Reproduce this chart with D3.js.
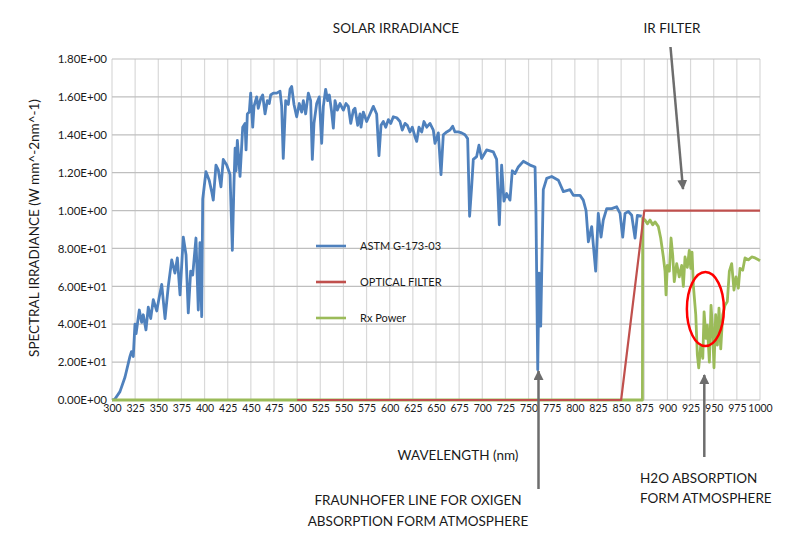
<!DOCTYPE html>
<html>
<head>
<meta charset="utf-8">
<script src="https://cdn.jsdelivr.net/npm/d3@7"></script>
<style>
  body { margin: 0; background: #fff; }
  text { font-family: Lato, "Open Sans", sans-serif; fill: #1a1a1a; }
</style>
</head>
<body>
<div id="chart"></div>
<script>
// wavelength ticks and the odd Excel labels on the y axis
const xTicks = d3.range(300, 1001, 25);
const yTicks = [0, 0.2, 0.4, 0.6, 0.8, 1.0, 1.2, 1.4, 1.6, 1.8];
const yTickLabels = ["0.00E+00", "2.00E+01", "4.00E+01", "6.00E+01", "8.00E+01",
    "1.00E+00", "1.20E+00", "1.40E+00", "1.60E+00", "1.80E+00"];

// ASTM G-173-03 solar irradiance, [nm, value]
const astm = [[300, 0], [303, 0.004], [308.6, 0.044], [314, 0.12], [319.4, 0.23], [321, 0.255],
    [323, 0.23], [324.8, 0.40], [326, 0.35], [329.5, 0.475], [332, 0.41], [333.8, 0.45], [336.7, 0.37],
    [339.2, 0.49], [341.8, 0.43], [344.6, 0.53], [348.3, 0.47], [351.1, 0.545], [353.7, 0.61],
    [357.3, 0.43], [360.8, 0.60], [364.5, 0.74], [368, 0.67], [370.6, 0.75], [373.5, 0.555],
    [377, 0.86], [380, 0.765], [382.4, 0.46], [385, 0.68], [387.2, 0.66], [390.7, 0.855],
    [393.2, 0.475], [395, 0.83], [396.9, 0.44], [398, 1.06], [401.5, 1.205], [405, 1.16],
    [407.7, 1.10], [409.4, 1.055], [412.3, 1.24], [414.8, 1.215], [417.7, 1.125], [420.2, 1.27],
    [423.9, 1.24], [427.5, 1.19], [430, 0.79], [431.8, 1.15], [433, 1.33], [434, 1.21],
    [435.4, 1.37], [438.3, 1.18], [441.2, 1.44], [443.7, 1.46], [444.8, 1.32], [446.2, 1.51],
    [448.3, 1.52], [449.8, 1.62], [452, 1.44], [453.4, 1.55], [456.3, 1.60], [458, 1.54],
    [460.6, 1.59], [462.8, 1.61], [465.3, 1.51], [467.8, 1.58], [469.9, 1.565], [471.4, 1.61],
    [474.3, 1.62], [477.9, 1.62], [481.5, 1.63], [483.3, 1.55], [485, 1.275], [487.6, 1.58],
    [490.5, 1.56], [492.3, 1.64], [494.1, 1.655], [496.6, 1.56], [499.5, 1.495], [502.3, 1.565],
    [504.9, 1.52], [506.7, 1.58], [509.2, 1.51], [512.1, 1.62], [514.6, 1.58], [516.4, 1.27],
    [518.2, 1.46], [521.1, 1.565], [523.9, 1.60], [526.5, 1.355], [528.3, 1.55], [530.8, 1.64],
    [533, 1.58], [534.8, 1.61], [537.3, 1.52], [539.1, 1.435], [540.9, 1.58], [543.4, 1.53],
    [546.3, 1.565], [549.9, 1.53], [552.8, 1.565], [555.3, 1.55], [557.9, 1.46], [560.7, 1.53],
    [562.5, 1.54], [565.4, 1.45], [567.9, 1.51], [569, 1.44], [571.5, 1.52], [575.1, 1.47],
    [578.7, 1.51], [582.3, 1.55], [585.9, 1.51], [588.4, 1.29], [590.6, 1.45], [593.1, 1.47],
    [595.7, 1.44], [598.5, 1.48], [601.1, 1.46], [603.9, 1.495], [607.6, 1.49], [611.1, 1.47],
    [613.6, 1.425], [616.5, 1.46], [619, 1.45], [621.9, 1.415], [624.4, 1.44], [627.3, 1.39],
    [629.2, 1.365], [631.6, 1.44], [634.6, 1.415], [637, 1.47], [640, 1.44], [643.5, 1.46],
    [647.1, 1.425], [648.9, 1.355], [652.5, 1.41], [655.4, 1.19], [657.9, 1.40], [661.6, 1.415],
    [665.1, 1.425], [668, 1.445], [670.5, 1.415], [674.1, 1.415], [677.7, 1.41], [681.3, 1.40],
    [684.2, 1.38], [686.3, 0.97], [688.5, 1.125], [690.3, 1.27], [693.9, 1.285], [696.4, 1.345],
    [699.3, 1.275], [704.7, 1.32], [711.9, 1.31], [715.5, 1.27], [718.4, 0.925], [720.9, 1.24],
    [723.4, 1.05], [726.3, 1.09], [729.9, 1.055], [732.4, 1.21], [735.3, 1.195], [738.9, 1.23],
    [744.3, 1.26], [751.6, 1.24], [757, 1.23], [758, 0.985], [759.9, 0.16], [761.3, 0.67],
    [763.1, 0.39], [765.9, 1.11], [769.6, 1.17], [775, 1.18], [782.2, 1.16], [787.6, 1.10],
    [794.8, 1.11], [798.4, 1.08], [805.6, 1.08], [809.1, 1.055], [812.1, 1.00], [814.6, 0.835],
    [818.2, 0.915], [822.5, 0.68], [825.3, 0.985], [828.3, 0.86], [830.7, 0.95], [834.4, 1.01],
    [839.8, 1.01], [845.2, 1.02], [848.8, 0.985], [851.7, 0.86], [854.2, 0.985], [857.8, 0.995],
    [861.4, 0.975], [865, 0.855], [867.5, 0.975], [872.2, 0.97]];

// optical (IR) filter
const opticalFilter = [[500, 0], [850, 0], [875, 1], [1000, 1]];

// received power
const rxPower = [[300, 0], [873, 0], [873.3, 0.96], [875.8, 0.95], [878.3, 0.93], [881.2, 0.95],
    [884.1, 0.925], [886.6, 0.94], [890.2, 0.915], [892.7, 0.855], [895.6, 0.755], [897.4, 0.68],
    [898.5, 0.555], [899.9, 0.71], [902.1, 0.68], [903.9, 0.855], [905.7, 0.765], [907.4, 0.625],
    [910, 0.72], [912.8, 0.65], [915.4, 0.71], [917.2, 0.60], [919, 0.755], [921.5, 0.70],
    [923.6, 0.79], [925.2, 0.695], [926.6, 0.78], [928, 0.605], [930.6, 0.45], [932.3, 0.24],
    [933.8, 0.17], [936, 0.29], [938.2, 0.22], [939.6, 0.465], [941.7, 0.325], [943.1, 0.395],
    [945.3, 0.20], [947.1, 0.50], [948.9, 0.36], [950.3, 0.17], [952.1, 0.45], [954, 0.29],
    [955.7, 0.485], [957.6, 0.27], [959.7, 0.45], [962.2, 0.50], [964.7, 0.52], [966.9, 0.68],
    [969.4, 0.72], [971.9, 0.58], [974.1, 0.65], [976.6, 0.59], [978.4, 0.695], [981.3, 0.685],
    [983.8, 0.75], [987.4, 0.74], [991.1, 0.755], [994.7, 0.75], [998.3, 0.74], [1000, 0.735]];

const series = [
    { name: "ASTM G-173-03", color: "#4f81bd", width: 2.8, points: astm },
    { name: "OPTICAL FILTER", color: "#c0504d", width: 2.2, points: opticalFilter },
    { name: "Rx Power", color: "#9bbb59", width: 2.8, points: rxPower }
];

const width = 800;
const height = 546;

const x = d3.scaleLinear().domain([300, 1000]).range([112, 760]);
const y = d3.scaleLinear().domain([0, 1.8]).range([400, 59]);

const svg = d3.select("#chart")
    .append("svg")
    .attr("width", width)
    .attr("height", height);

// grid
svg.append("g")
    .selectAll("line")
    .data(xTicks)
    .enter()
    .append("line")
    .attr("x1", (d) => x(d)).attr("x2", (d) => x(d))
    .attr("y1", y(1.8)).attr("y2", y(0))
    .attr("stroke", "#d9d9d9")
    .attr("stroke-width", 1.2);

svg.append("g")
    .selectAll("line")
    .data(yTicks)
    .enter()
    .append("line")
    .attr("x1", x(300)).attr("x2", x(1000))
    .attr("y1", (d) => y(d)).attr("y2", (d) => y(d))
    .attr("stroke", "#bfbfbf")
    .attr("stroke-width", 1.2);

// axes
const xAxis = svg.append("g")
    .attr("transform", `translate(0,${y(0)})`)
    .call(d3.axisBottom(x).tickValues(xTicks).tickSize(0).tickPadding(5).tickFormat(d3.format("d")));
xAxis.select(".domain").remove();
xAxis.selectAll("text").style("font-size", "10.5px");

const yAxis = svg.append("g")
    .attr("transform", `translate(${x(300)},0)`)
    .call(d3.axisLeft(y).tickValues(yTicks).tickSize(0).tickPadding(5)
        .tickFormat((d, i) => yTickLabels[i]));
yAxis.select(".domain").remove();
yAxis.selectAll("text").style("font-size", "11.5px");

// series: blue first, then green, red on top of the baseline
const line = d3.line()
    .x((d) => x(d[0]))
    .y((d) => y(d[1]));

[series[0], series[2], series[1]].forEach((s) => {
    svg.append("path")
        .datum(s.points)
        .attr("fill", "none")
        .attr("stroke", s.color)
        .attr("stroke-width", s.width)
        .attr("stroke-linejoin", "round")
        .attr("d", line);
});

// legend
const legend = svg.append("g")
    .selectAll("g")
    .data(series)
    .enter()
    .append("g")
    .attr("transform", (d, i) => `translate(316,${246 + i * 36})`);

legend.append("line")
    .attr("x1", 0).attr("x2", 30)
    .attr("stroke", (d) => d.color)
    .attr("stroke-width", 2.6);

legend.append("text")
    .attr("x", 44)
    .attr("dy", "0.35em")
    .style("font-size", "11px")
    .text((d) => d.name);

// annotations
const labels = [
    { t: "SOLAR IRRADIANCE", x: 396, y: 33, a: "middle" },
    { t: "IR FILTER", x: 672, y: 33, a: "middle" },
    { t: "WAVELENGTH (nm)", x: 458, y: 460, a: "middle" },
    { t: "FRAUNHOFER LINE FOR OXIGEN", x: 418, y: 505, a: "middle" },
    { t: "ABSORPTION FORM ATMOSPHERE", x: 418, y: 526, a: "middle" },
    { t: "H2O ABSORPTION", x: 640, y: 483, a: "start" },
    { t: "FORM ATMOSPHERE", x: 640, y: 503, a: "start" }
];
svg.append("g")
    .selectAll("text")
    .data(labels)
    .enter()
    .append("text")
    .attr("x", (d) => d.x).attr("y", (d) => d.y)
    .attr("text-anchor", (d) => d.a)
    .style("font-size", "13.5px")
    .text((d) => d.t);

svg.append("text")
    .attr("transform", "translate(39,228) rotate(-90)")
    .attr("text-anchor", "middle")
    .style("font-size", "13.5px")
    .text("SPECTRAL IRRADIANCE (W mm^-2nm^-1)");

// arrows
svg.append("defs").append("marker")
    .attr("id", "head")
    .attr("viewBox", "0 0 10 10")
    .attr("refX", 9).attr("refY", 5)
    .attr("markerWidth", 4).attr("markerHeight", 4)
    .attr("orient", "auto")
    .append("path")
    .attr("d", "M0,0L10,5L0,10Z")
    .attr("fill", "#6d6d6d");

const arrows = [
    [670.5, 47, 683, 189],
    [538.5, 489, 538.5, 371],
    [704.3, 457, 704.3, 375]
];
svg.append("g")
    .selectAll("line")
    .data(arrows)
    .enter()
    .append("line")
    .attr("x1", (d) => d[0]).attr("y1", (d) => d[1])
    .attr("x2", (d) => d[2]).attr("y2", (d) => d[3])
    .attr("stroke", "#6d6d6d")
    .attr("stroke-width", 2.5)
    .attr("marker-end", "url(#head)");

// red circle round the water band
svg.append("ellipse")
    .attr("cx", x(941)).attr("cy", y(0.48))
    .attr("rx", 18.5).attr("ry", 37)
    .attr("fill", "none")
    .attr("stroke", "#ff0000")
    .attr("stroke-width", 2.5);
</script>
</body>
</html>
